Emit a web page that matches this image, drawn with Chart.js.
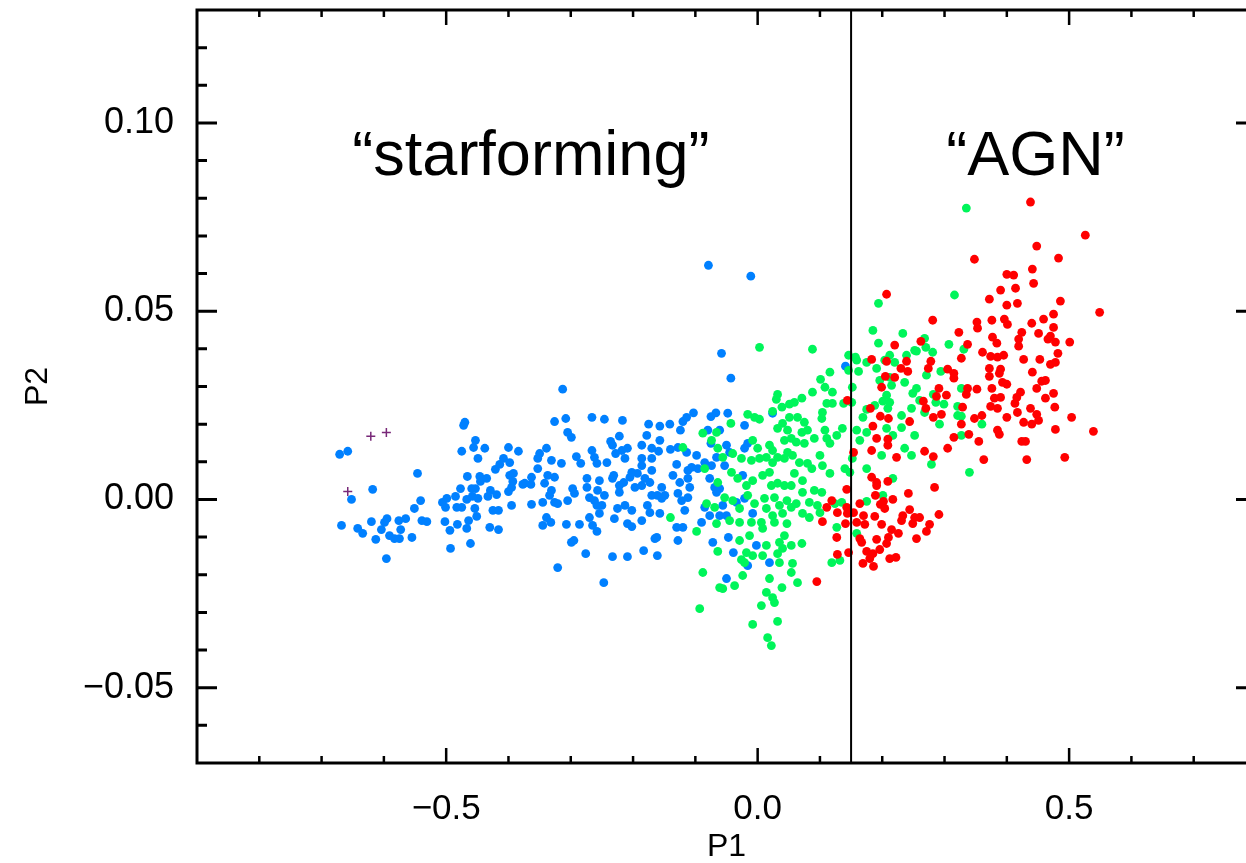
<!DOCTYPE html>
<html>
<head>
<meta charset="utf-8">
<script src="https://cdn.jsdelivr.net/npm/chart.js@4.4.1/dist/chart.umd.min.js"></script>
<style>
  html, body { margin: 0; padding: 0; background: #fff; overflow: hidden; }
  #plot { display: block; }
</style>
</head>
<body>
<canvas id="plot" width="1262" height="863"></canvas>
<script>
// axis ranges and ticks
var xMin = -0.9, xMax = 0.8;
var yMin = -0.07, yMax = 0.13;
var xMajor = [-0.5, 0.0, 0.5];
var xLabels = ['\u22120.5', '0.0', '0.5'];
var xMinor = [-0.8, -0.7, -0.6, -0.4, -0.3, -0.2, -0.1, 0.1, 0.2, 0.3, 0.4, 0.6, 0.7];
var yMajor = [-0.05, 0.0, 0.05, 0.10];
var yLabels = ['\u22120.05', '0.00', '0.05', '0.10'];
var yMinor = [-0.06, -0.04, -0.03, -0.02, -0.01, 0.01, 0.02, 0.03, 0.04, 0.06, 0.07, 0.08, 0.09, 0.11, 0.12];

// dividing line between the two classes
var divideP1 = 0.15;

// region names
var regionNames = ['\u201Cstarforming\u201D', '\u201CAGN\u201D'];
var regionP1 = [-0.364, 0.446];
var regionP2 = [0.0862, 0.0862];

// blue points (P1, P2)
var sfPoints = [
  [-0.671,0.012],[-0.658,0.0128],[-0.546,0.0069],[-0.618,0.0027],[-0.652,0.000],[-0.541,-0.0003],
  [-0.551,-0.0024],[-0.668,-0.0069],[-0.642,-0.0077],[-0.634,-0.009],[-0.620,-0.0059],[-0.613,-0.0106],
  [-0.604,-0.008],[-0.599,-0.0061],[-0.595,-0.0051],[-0.591,-0.0096],[-0.583,-0.0104],[-0.575,-0.0104],
  [-0.576,-0.0056],[-0.573,-0.008],[-0.565,-0.0051],[-0.555,-0.0101],[-0.539,-0.0056],[-0.531,-0.0059],
  [-0.596,-0.0157],[-0.502,-0.0059],[-0.494,-0.0082],[-0.493,-0.013],[-0.482,-0.0066],[-0.467,-0.0077],
  [-0.464,-0.0056],[-0.461,-0.0117],[-0.430,-0.0074],[-0.416,-0.008],[-0.506,-0.0008],[-0.499,0.0003],
  [-0.501,-0.0021],[-0.485,0.0008],[-0.483,-0.0021],[-0.475,-0.0021],[-0.477,0.0029],[-0.467,0.000],
  [-0.459,0.0029],[-0.453,0.0029],[-0.458,0.0008],[-0.449,0.0003],[-0.454,-0.0024],[-0.451,-0.0045],
  [-0.466,0.0061],[-0.446,0.0061],[-0.435,0.0056],[-0.445,0.0048],[-0.475,0.0128],[-0.456,0.0138],
  [-0.453,0.0157],[-0.438,0.0136],[-0.449,0.0109],[-0.429,0.0024],[-0.433,0.0008],[-0.419,0.0013],
  [-0.425,-0.0029],[-0.416,-0.0029],[-0.395,-0.0016],[-0.400,0.0021],[-0.395,0.0032],[-0.393,0.0048],
  [-0.398,0.0064],[-0.392,0.0069],[-0.421,0.008],[-0.414,0.0093],[-0.408,0.0109],[-0.398,0.0098],
  [-0.400,0.0138],[-0.384,0.0128],[-0.377,0.004],[-0.472,0.0197],[-0.470,0.0205],
  [-0.313,0.0293],[-0.326,0.0207],[-0.308,0.0215],[-0.266,0.0218],[-0.246,0.0213],[-0.217,0.021],
  [-0.175,0.020],[-0.157,0.0195],[-0.141,0.020],[-0.120,0.0207],[-0.114,0.0218],[-0.103,0.023],
  [-0.075,0.022],[-0.067,0.023],[-0.079,0.0622],[-0.058,0.0388],
  [-0.011,0.0593],[-0.043,0.0322],[-0.048,0.0229],[0.024,0.0229],[0.141,0.0354],[-0.021,0.0197],
  [-0.050,0.0144],[-0.045,0.0125],[-0.053,0.009],[-0.021,0.0136],[-0.016,0.0149],[-0.024,0.0064],
  [-0.061,0.0029],[-0.056,-0.0016],[-0.050,-0.0043],[-0.034,-0.0008],[-0.021,0.0003],[-0.008,-0.0037],
  [-0.047,-0.0101],[-0.002,-0.0122],[-0.039,-0.0141],[0.019,-0.0168],[-0.016,-0.0176],[-0.050,-0.021],
  [-0.061,0.0184],
  [-0.305,0.0178],[-0.299,0.0165],[-0.222,0.0168],[-0.124,0.0184],[-0.178,0.017],[-0.157,0.0157],
  [-0.236,0.0154],[-0.233,0.0144],[-0.339,0.0136],[-0.350,0.0122],[-0.353,0.0109],[-0.331,0.0104],
  [-0.315,0.0096],[-0.291,0.0114],[-0.284,0.0096],[-0.266,0.013],[-0.262,0.0112],[-0.258,0.0096],
  [-0.242,0.0098],[-0.228,0.0122],[-0.218,0.013],[-0.209,0.0136],[-0.213,0.0109],[-0.186,0.0144],
  [-0.170,0.0136],[-0.159,0.0128],[-0.140,0.0133],[-0.128,0.0138],[-0.114,0.0125],[-0.098,0.0117],
  [-0.080,0.0184],[-0.075,0.0149],[-0.085,0.0098],[-0.186,0.0109],[-0.170,0.0109],[-0.130,0.0093],
  [-0.353,0.0082],[-0.363,0.0059],[-0.374,0.0043],[-0.337,0.0064],[-0.326,0.0059],[-0.342,0.0043],
  [-0.331,0.0024],[-0.334,0.0011],[-0.297,0.0029],[-0.294,0.0016],[-0.274,0.0032],[-0.274,0.0056],
  [-0.254,0.005],[-0.231,0.0064],[-0.202,0.0072],[-0.205,0.0059],[-0.215,0.0045],[-0.197,0.0032],
  [-0.186,0.0037],[-0.222,0.0019],[-0.257,0.0024],[-0.246,0.0011],[-0.262,-0.0003],[-0.250,-0.0016],
  [-0.254,-0.0037],[-0.270,-0.0048],[-0.265,-0.0069],[-0.258,-0.0085],[-0.286,-0.0066],[-0.307,-0.0066],
  [-0.339,-0.0048],[-0.345,-0.0069],[-0.363,-0.0013],[-0.345,-0.0008],[-0.326,-0.0008],[-0.321,-0.0011],
  [-0.305,-0.0003],[-0.299,-0.0114],[-0.295,-0.0109],[-0.276,-0.0144],[-0.321,-0.0181],[-0.247,-0.0221],
  [-0.233,-0.0152],[-0.209,-0.0152],[-0.183,-0.0136],[-0.161,-0.0149],[-0.165,-0.0104],[-0.162,-0.0101],
  [-0.186,-0.0056],[-0.209,-0.0064],[-0.202,-0.0072],[-0.230,-0.0051],[-0.225,-0.0024],[-0.213,-0.0016],
  [-0.202,-0.0029],[-0.177,-0.0016],[-0.173,-0.0035],[-0.157,-0.0037],[-0.130,-0.0074],[-0.120,-0.0074],
  [-0.128,-0.0109],[-0.117,-0.0029],[-0.122,-0.0003],[-0.128,0.0016],[-0.112,0.0005],[-0.109,0.0032],
  [-0.125,0.0045],[-0.136,0.0064],[-0.112,0.0056],[-0.106,0.0085],[-0.096,0.0082],[-0.112,0.0077],
  [-0.161,0.0011],[-0.154,0.0003],[-0.149,0.0011],[-0.170,0.0011],[-0.173,0.0045],[-0.181,0.0056],
  [-0.170,0.0077],[-0.193,0.0069],[-0.154,0.0032],[-0.186,0.009],[-0.085,-0.0021],[-0.077,-0.0043],
  [-0.090,-0.0061],[-0.072,-0.0114],[-0.061,-0.0043],[-0.077,0.0056],[-0.066,0.0019],[-0.069,0.0032],
  [-0.074,0.009],[-0.066,0.0112],[-0.233,0.0056],[-0.222,0.0037],[-0.258,-0.0016],[-0.270,0.0005],
  [-0.332,-0.0061],[-0.364,0.004]
];

// green points (P1, P2)
var midPoints = [
  [0.003,0.0404],[0.088,0.0399],[0.194,0.0521],[0.185,0.0449],[0.233,0.0441],[0.194,0.0415],
  [0.146,0.0383],[0.157,0.0378],[0.159,0.037],[0.175,0.0364],[0.212,0.0383],[0.239,0.0383],
  [0.252,0.0396],[0.191,0.0348],[0.204,0.037],[0.220,0.0364],[0.162,0.034],[0.146,0.0343],
  [0.116,0.0338],[0.101,0.0319],[0.108,0.0298],[0.120,0.0285],[0.088,0.0285],[0.071,0.0269],
  [0.059,0.0258],[0.051,0.0253],[0.039,0.0245],[0.032,0.0279],[0.030,0.0266],[0.024,0.0234],
  [0.111,0.0255],[0.120,0.0255],[0.138,0.0255],[0.151,0.0258],[0.152,0.0298],[0.104,0.0231],
  [0.103,0.0215],[0.051,0.0218],[0.064,0.0218],[0.075,0.0205],[0.003,0.0213],[-0.005,0.0218],
  [-0.016,0.0226],[0.040,0.0202],[-0.043,0.0202],[0.196,0.0316],[0.212,0.0324],[0.207,0.0277],
  [0.212,0.0258],[0.201,0.0261],[0.209,0.0242],[0.188,0.025],[0.175,0.0239],[0.169,0.0218],
  [0.231,0.0223],[0.247,0.0242],[0.249,0.0282],[0.236,0.0311],[0.215,0.0303],
  [0.335,0.0774],[0.316,0.0543],[0.268,0.0428],[0.270,0.0404],[0.307,0.0412],[0.255,0.0394],
  [0.281,0.0391],[0.331,0.0399],[0.294,0.034],[0.271,0.033],[0.255,0.0295],[0.282,0.0279],
  [0.260,0.0263],[0.286,0.0258],[0.299,0.0253],[0.321,0.0247],[0.327,0.0295],[0.268,0.0231],
  [0.321,0.0223],[0.327,0.0221],[0.292,0.020],[0.360,0.020],
  [0.327,0.017],[0.279,0.0093],[0.340,0.0072],[0.252,0.017],
  [-0.088,0.0176],[-0.074,0.0157],[-0.066,0.0178],[-0.120,0.0138],[-0.085,0.0082],[-0.064,0.0136],
  [-0.064,0.0045],[-0.082,-0.0011],[-0.069,-0.0021],[-0.066,-0.0064],[-0.140,-0.0048],[-0.098,-0.0085],
  [-0.064,-0.0138],[-0.088,-0.0194],[-0.093,-0.029],[-0.061,-0.0234],
  [0.032,0.0189],[0.048,0.0184],[0.071,0.0178],[0.080,0.0184],[0.108,0.0184],[0.127,0.017],
  [0.136,0.0189],[0.159,0.0184],[0.175,0.0178],[0.207,0.0189],[0.217,0.017],[0.236,0.0136],
  [0.247,0.0117],[0.231,0.0191],[0.164,0.0157],
  [0.043,0.0157],[0.054,0.0162],[0.062,0.0152],[0.075,0.0149],[0.091,0.0162],[0.111,0.0162],
  [0.116,0.0149],[0.019,0.0144],[0.024,0.013],[-0.008,0.0157],[0.000,0.0136],[-0.026,0.0109],
  [-0.010,0.0104],[0.003,0.0109],[0.014,0.0112],[0.024,0.0098],[0.032,0.0112],[0.043,0.0109],
  [0.048,0.0125],[0.056,0.0117],[0.067,0.0098],[0.080,0.0096],[0.087,0.0082],[0.100,0.0117],
  [0.104,0.009],[0.116,0.0069],[0.140,0.0082],[0.148,0.0072],[0.152,0.0109],[0.175,0.0082],
  [0.199,0.0117],[0.217,0.0056],
  [-0.040,0.0122],[-0.056,0.0112],[-0.042,0.0072],[-0.032,0.0056],[-0.018,0.0037],[-0.008,0.005],
  [0.008,0.0064],[0.019,0.0072],[0.022,0.0037],[0.032,0.0043],[0.043,0.0037],[0.054,0.0037],
  [0.059,0.0069],[0.072,0.005],[0.091,0.0024],[0.103,0.0019],[0.124,-0.0011],[0.135,-0.0008],
  [0.175,-0.0005],[0.201,0.0011],
  [-0.053,0.0005],[-0.040,-0.0003],[-0.029,-0.0024],[-0.016,0.0011],[-0.005,-0.0011],[0.011,0.0003],
  [0.014,-0.0024],[0.027,0.0005],[0.035,-0.0016],[0.047,-0.0003],[0.054,-0.0021],[0.062,-0.0011],
  [0.072,-0.0037],[0.083,-0.0048],[0.096,-0.0016],[0.100,-0.0035],[0.040,-0.0037],[0.024,-0.0043],
  [0.006,-0.0061],[-0.010,-0.0061],[-0.029,-0.0061],[-0.045,-0.0056],[0.008,-0.0077],[0.027,-0.0061],
  [0.047,-0.0064],[0.043,-0.0096],[0.035,-0.0114],[0.054,-0.0122],[0.071,-0.0117],[0.014,-0.0122],
  [0.008,-0.0149],[-0.018,-0.0141],[-0.029,-0.0109],[-0.013,-0.0096],[0.032,-0.0144],[0.040,-0.013],
  [-0.021,-0.0168],[-0.008,-0.0149],[0.035,-0.0168],[0.056,-0.017],[0.054,-0.0194],[0.064,-0.0221],
  [0.019,-0.021],[0.039,-0.0234],[0.014,-0.0247],[0.024,-0.0261],[0.027,-0.0274],[0.006,-0.0282],
  [0.032,-0.0324],[-0.008,-0.0332],[0.016,-0.0367],[0.022,-0.0388],[-0.037,-0.0229],[-0.056,-0.0237],
  [-0.024,-0.0202],[-0.026,-0.016],[0.119,-0.0168],[0.132,-0.0162],[0.159,-0.009],[0.127,-0.0074],
  [0.072,0.0019],[0.083,-0.0008]
];

// red points (P1, P2)
var agnPoints = [
  [0.207,0.0545],[0.220,0.041],[0.183,0.0372],[0.207,0.0367],[0.239,0.0367],[0.230,0.0348],
  [0.241,0.034],[0.205,0.0327],[0.220,0.0324],[0.199,0.0298],[0.144,0.0263],[0.181,0.0242],
  [0.197,0.0221],[0.210,0.0215],[0.244,0.0207],[0.185,0.0195],
  [0.438,0.079],[0.526,0.0702],[0.448,0.0673],[0.483,0.0641],[0.348,0.0638],[0.441,0.0612],
  [0.400,0.0598],[0.411,0.0596],[0.443,0.0574],[0.390,0.0556],[0.414,0.0561],[0.372,0.0532],
  [0.486,0.0527],[0.400,0.0516],[0.417,0.0521],[0.549,0.0497],[0.281,0.0476],[0.352,0.0471],
  [0.376,0.0476],[0.396,0.0479],[0.401,0.0465],[0.440,0.0468],[0.459,0.0479],[0.475,0.0492],
  [0.353,0.0455],[0.323,0.0444],[0.424,0.0444],[0.451,0.0441],[0.475,0.0457],[0.377,0.0431],
  [0.419,0.0426],[0.470,0.0434],[0.466,0.0426],[0.478,0.0418],[0.501,0.0418],[0.262,0.042],
  [0.337,0.0412],[0.384,0.0415],[0.419,0.0407],[0.361,0.0391],[0.482,0.0388],[0.327,0.0375],
  [0.374,0.038],[0.385,0.0378],[0.395,0.0383],[0.427,0.0372],[0.453,0.0372],[0.478,0.0364],
  [0.470,0.0359],[0.278,0.0367],[0.274,0.0348],[0.305,0.0346],[0.315,0.0335],[0.315,0.0322],
  [0.372,0.0348],[0.390,0.0346],[0.372,0.0327],[0.388,0.0335],[0.441,0.0338],[0.393,0.0311],
  [0.400,0.0306],[0.456,0.0314],[0.462,0.0316],[0.448,0.0295],[0.291,0.0295],[0.352,0.0293],
  [0.376,0.0295],[0.337,0.0295],[0.335,0.0279],[0.303,0.0277],[0.287,0.0274],[0.422,0.0285],
  [0.416,0.0271],[0.475,0.0282],[0.380,0.0269],[0.390,0.0271],[0.462,0.0269],[0.266,0.0261],
  [0.413,0.0255],[0.329,0.0245],[0.374,0.0247],[0.385,0.0242],[0.438,0.0242],[0.477,0.0245],
  [0.270,0.0242],[0.295,0.0226],[0.282,0.0218],[0.417,0.0231],[0.360,0.0223],[0.348,0.0215],
  [0.400,0.0218],[0.448,0.0226],[0.451,0.021],[0.504,0.0218],[0.327,0.020],[0.427,0.0205],
  [0.440,0.020],
  [0.315,0.0165],[0.339,0.0173],[0.355,0.0154],[0.385,0.0184],[0.388,0.0173],[0.305,0.0136],
  [0.268,0.0128],[0.282,0.0114],[0.363,0.0106],[0.424,0.0154],[0.430,0.0154],[0.432,0.0106],
  [0.478,0.0186],[0.539,0.0181],[0.493,0.0112],[0.284,0.0032],[0.291,-0.004],[0.260,-0.0048],
  [0.252,-0.0048],[0.276,-0.0066],[0.271,-0.0085],[0.255,-0.0104],
  [0.191,0.0162],[0.209,0.016],[0.223,0.0112],[0.183,0.013],[0.154,0.0125],[0.183,0.0059],
  [0.191,0.0045],[0.191,0.0037],[0.209,0.0048],[0.242,0.0016],[0.189,0.0011],[0.202,-0.0005],
  [0.217,0.000],[0.197,-0.0013],[0.204,-0.0024],[0.143,0.0027],[0.164,-0.0011],[0.119,-0.0003],
  [0.111,-0.0021],[0.128,-0.0035],[0.143,-0.0021],[0.144,-0.0037],[0.154,-0.0035],[0.159,-0.0061],
  [0.170,-0.0043],[0.172,-0.0066],[0.141,-0.0064],[0.104,-0.0059],[0.188,-0.0045],[0.199,-0.0066],
  [0.233,-0.0043],[0.244,-0.0027],[0.231,-0.0056],[0.249,-0.0064],[0.215,-0.008],[0.226,-0.009],
  [0.127,-0.0101],[0.164,-0.0104],[0.167,-0.0114],[0.191,-0.0106],[0.210,-0.0101],[0.207,-0.0117],
  [0.196,-0.0133],[0.175,-0.0138],[0.185,-0.0144],[0.180,-0.0157],[0.169,-0.017],[0.186,-0.0178],
  [0.212,-0.0157],[0.222,-0.0154],[0.128,-0.0146],[0.146,-0.0141],[0.095,-0.0218],[0.209,0.0144]
];

// purple crosses (P1, P2)
var oddPoints = [[-0.621,0.0168],[-0.596,0.0178],[-0.658,0.0021]];

var fontFamily = '"Liberation Sans", Arial, Helvetica, sans-serif';

function toXY(list){
  return list.map(function(p){ return {x: p[0], y: p[1]}; });
}

// frame, inward ticks and region names
var framePlugin = {
  id: 'frame',
  afterDraw: function(chart){
    var ctx = chart.ctx;
    var a = chart.chartArea;
    var xs = chart.scales.x, ys = chart.scales.y;
    ctx.save();
    ctx.strokeStyle = '#000';
    ctx.lineWidth = 3;
    ctx.strokeRect(a.left, a.top, a.right - a.left, a.bottom - a.top);

    function xTick(v, len){
      var px = xs.getPixelForValue(v);
      ctx.beginPath();
      ctx.moveTo(px, a.bottom); ctx.lineTo(px, a.bottom - len);
      ctx.moveTo(px, a.top); ctx.lineTo(px, a.top + len);
      ctx.stroke();
    }
    function yTick(v, len){
      var py = ys.getPixelForValue(v);
      ctx.beginPath();
      ctx.moveTo(a.left, py); ctx.lineTo(a.left + len, py);
      ctx.moveTo(a.right, py); ctx.lineTo(a.right - len, py);
      ctx.stroke();
    }
    ctx.lineWidth = 2.5;
    xMajor.forEach(function(v){ xTick(v, 15); });
    xMinor.forEach(function(v){ xTick(v, 7); });
    ctx.lineWidth = 3;
    yMajor.forEach(function(v){ yTick(v, 20); });
    yMinor.forEach(function(v){ yTick(v, 10); });

    ctx.fillStyle = '#000';
    ctx.font = '63px ' + fontFamily;
    ctx.textAlign = 'center';
    ctx.textBaseline = 'alphabetic';
    for (var i = 0; i < regionNames.length; i++){
      ctx.fillText(regionNames[i], xs.getPixelForValue(regionP1[i]), ys.getPixelForValue(regionP2[i]));
    }
    ctx.restore();
  }
};

var ctx = document.getElementById('plot').getContext('2d');
var myChart = new Chart(ctx, {
  type: 'scatter',
  data: {
    datasets: [
      {
        type: 'line',
        data: [{x: divideP1, y: yMin}, {x: divideP1, y: yMax}],
        borderColor: '#000',
        borderWidth: 2,
        pointRadius: 0,
        fill: false,
        order: 0
      },
      {
        data: toXY(agnPoints),
        backgroundColor: 'rgb(255,0,0)',
        borderWidth: 0,
        pointRadius: 4.4,
        order: 1
      },
      {
        data: toXY(midPoints),
        backgroundColor: 'rgb(0,245,90)',
        borderWidth: 0,
        pointRadius: 4.4,
        order: 2
      },
      {
        data: toXY(sfPoints),
        backgroundColor: 'rgb(0,128,255)',
        borderWidth: 0,
        pointRadius: 4.4,
        order: 3
      },
      {
        data: toXY(oddPoints),
        pointStyle: 'cross',
        borderColor: 'rgb(120,40,120)',
        borderWidth: 1.5,
        pointRadius: 4.5,
        order: 4
      }
    ]
  },
  options: {
    responsive: false,
    animation: false,
    devicePixelRatio: 1,
    layout: { padding: { left: 0, right: 6, top: 10, bottom: 0 } },
    plugins: { legend: { display: false }, tooltip: { enabled: false } },
    scales: {
      x: {
        type: 'linear',
        min: xMin,
        max: xMax,
        grid: { display: false },
        border: { display: false },
        afterBuildTicks: function(axis){ axis.ticks = xMajor.map(function(v){ return {value: v}; }); },
        afterFit: function(axis){
          axis.height = 100;
          axis.paddingLeft = 0; axis.paddingRight = 0;
        },
        ticks: {
          color: '#000',
          padding: 17,
          maxRotation: 0,
          autoSkip: false,
          font: { family: fontFamily, size: 35 },
          callback: function(value, index){ return xLabels[index]; }
        },
        title: {
          display: true,
          text: 'P1',
          color: '#000',
          padding: { top: 0, bottom: 0 },
          font: { family: fontFamily, size: 32, lineHeight: 1 }
        }
      },
      y: {
        type: 'linear',
        min: yMin,
        max: yMax,
        grid: { display: false },
        border: { display: false },
        afterBuildTicks: function(axis){ axis.ticks = yMajor.map(function(v){ return {value: v}; }); },
        afterFit: function(axis){
          axis.width = 197;
          axis.paddingTop = 0; axis.paddingBottom = 0;
        },
        ticks: {
          color: '#000',
          padding: 15,
          autoSkip: false,
          font: { family: fontFamily, size: 36 },
          callback: function(value, index){ return yLabels[index]; }
        },
        title: {
          display: true,
          text: 'P2',
          color: '#000',
          padding: { top: 22, bottom: 0 },
          font: { family: fontFamily, size: 32, lineHeight: 1 }
        }
      }
    }
  },
  plugins: [framePlugin]
});
</script>
</body>
</html>
